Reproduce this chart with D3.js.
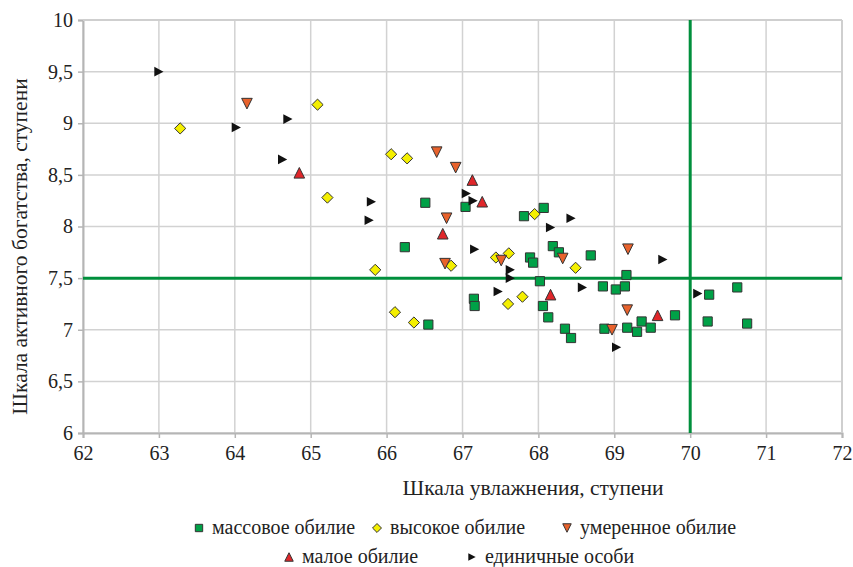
<!DOCTYPE html>
<html>
<head>
<meta charset="utf-8">
<script src="https://cdn.jsdelivr.net/npm/d3@7"></script>
<style>
  body { margin: 0; background: #fff; }
</style>
</head>
<body>
<svg id="chart" width="853" height="567"></svg>
<script>
// серии: [шкала увлажнения, шкала активного богатства]
const massovoe = [
  [66.51, 8.23], [67.04, 8.19], [66.24, 7.80], [66.55, 7.05], [67.15, 7.30], [67.16, 7.23],
  [67.81, 8.10], [68.07, 8.18], [67.89, 7.70], [67.93, 7.65], [68.19, 7.81], [68.27, 7.75],
  [68.69, 7.72], [68.02, 7.47], [68.06, 7.23], [68.13, 7.12], [68.35, 7.01], [68.43, 6.92],
  [68.85, 7.42], [69.02, 7.39], [69.14, 7.42], [69.16, 7.53], [68.87, 7.01], [69.17, 7.02],
  [69.30, 6.98], [69.36, 7.08], [69.48, 7.02], [69.80, 7.14], [70.25, 7.34], [70.62, 7.41],
  [70.23, 7.08], [70.75, 7.06]
];
const vysokoe = [
  [63.28, 8.95], [65.09, 9.18], [65.22, 8.28], [66.06, 8.70], [66.27, 8.66], [65.85, 7.58],
  [66.11, 7.17], [66.36, 7.07], [66.85, 7.62], [67.44, 7.70], [67.61, 7.74], [67.60, 7.25],
  [67.79, 7.32], [67.95, 8.12], [68.49, 7.60]
];
const umerennoe = [
  [64.16, 9.19], [66.66, 8.72], [66.91, 8.57], [66.79, 8.08], [66.77, 7.64], [67.51, 7.67],
  [68.32, 7.69], [69.18, 7.78], [69.17, 7.19], [68.97, 7.00]
];
const maloe = [
  [64.85, 8.52], [67.13, 8.45], [67.26, 8.24], [66.74, 7.93], [68.16, 7.34], [69.57, 7.14]
];
const edinichnye = [
  [63.00, 9.50], [64.02, 8.96], [64.70, 9.04], [64.63, 8.65], [65.80, 8.24], [65.77, 8.06],
  [67.05, 8.32], [67.14, 8.25], [67.16, 7.78], [67.63, 7.58], [67.63, 7.50], [67.47, 7.37],
  [68.16, 7.99], [68.43, 8.08], [68.58, 7.41], [69.64, 7.68], [69.03, 6.83], [70.10, 7.35]
];

const xTicks = [62, 63, 64, 65, 66, 67, 68, 69, 70, 71, 72];
const yTicks = [6, 6.5, 7, 7.5, 8, 8.5, 9, 9.5, 10];
const refX = 70, refY = 7.5;

// маркеры: k — масштаб (1 для графика)
function marker(kind, k) {
  const p = d3.path();
  if (kind === "square") {
    const h = 4.6 * k; p.rect(-h, -h, 2 * h, 2 * h);
  } else if (kind === "diamond") {
    const h = 5.6 * k; p.moveTo(0, -h); p.lineTo(h, 0); p.lineTo(0, h); p.lineTo(-h, 0); p.closePath();
  } else if (kind === "down") {
    const w = 5.3 * k, h = 5.3 * k; p.moveTo(-w, -h); p.lineTo(w, -h); p.lineTo(0, h); p.closePath();
  } else if (kind === "up") {
    const w = 5.3 * k, h = 5.3 * k; p.moveTo(-w, h); p.lineTo(w, h); p.lineTo(0, -h); p.closePath();
  } else {
    const w = 4.6 * k, h = 4.8 * k; p.moveTo(-w, -h); p.lineTo(w, 0); p.lineTo(-w, h); p.closePath();
  }
  return p.toString();
}

const series = [
  {name: "массовое обилие", data: massovoe, kind: "square", fill: "#00a147"},
  {name: "высокое обилие", data: vysokoe, kind: "diamond", fill: "#f4ef00"},
  {name: "умеренное обилие", data: umerennoe, kind: "down", fill: "#e8622c"},
  {name: "малое обилие", data: maloe, kind: "up", fill: "#e0262a"},
  {name: "единичные особи", data: edinichnye, kind: "right", fill: "#111"}
];

const margin = {top: 20, right: 11, bottom: 134, left: 83};
const width = 853, height = 567;
const innerW = width - margin.left - margin.right;
const innerH = height - margin.top - margin.bottom;

const svg = d3.select("#chart");
const g = svg.append("g").attr("transform", `translate(${margin.left},${margin.top})`);

const x = d3.scaleLinear().domain([62, 72]).range([0, innerW]);
const y = d3.scaleLinear().domain([6, 10]).range([innerH, 0]);

// сетка
g.append("g").selectAll("line").data(xTicks).join("line")
  .attr("x1", d => x(d)).attr("x2", d => x(d))
  .attr("y1", 0).attr("y2", innerH)
  .attr("stroke", "#d2d2d2").attr("stroke-width", 1.5);
g.append("g").selectAll("line").data(yTicks).join("line")
  .attr("x1", 0).attr("x2", innerW)
  .attr("y1", d => y(d)).attr("y2", d => y(d))
  .attr("stroke", "#d2d2d2").attr("stroke-width", 1.5);

// оси
const fmt = d => String(d).replace(".", ",");
const ax = g.append("g").attr("transform", `translate(0,${innerH})`)
  .call(d3.axisBottom(x).tickValues(xTicks).tickSize(5).tickPadding(8).tickFormat(d => d));
const ay = g.append("g")
  .call(d3.axisLeft(y).tickValues(yTicks).tickSize(5).tickPadding(5).tickFormat(fmt));
[ax, ay].forEach(a => {
  a.select(".domain").attr("stroke", "#b5b5b5").attr("stroke-width", 2);
  a.selectAll(".tick line").attr("stroke", "#b5b5b5").attr("stroke-width", 1.5);
  a.selectAll(".tick text").style("font-size", "20px");
});
g.append("line").attr("x1", innerW).attr("x2", innerW).attr("y1", 0).attr("y2", innerH)
  .attr("stroke", "#cfcfcf").attr("stroke-width", 2);
g.append("line").attr("x1", 0).attr("x2", innerW).attr("y1", 0).attr("y2", 0)
  .attr("stroke", "#cfcfcf").attr("stroke-width", 2);

// зелёные линии
g.append("line").attr("x1", 0).attr("x2", innerW).attr("y1", y(refY)).attr("y2", y(refY))
  .attr("stroke", "#008f3c").attr("stroke-width", 3);
g.append("line").attr("x1", x(refX)).attr("x2", x(refX)).attr("y1", 0).attr("y2", innerH)
  .attr("stroke", "#008f3c").attr("stroke-width", 3);

// точки
series.forEach(s => {
  g.append("g").selectAll("path").data(s.data).join("path")
    .attr("d", marker(s.kind, 1))
    .attr("transform", d => `translate(${x(d[0])},${y(d[1])})`)
    .attr("fill", s.fill)
    .attr("stroke", s.kind === "right" ? "none" : "#333")
    .attr("stroke-width", 1);
});

// подписи осей
svg.append("text")
  .attr("x", 533).attr("y", 495)
  .attr("text-anchor", "middle")
  .style("font-size", "21.5px")
  .text("Шкала увлажнения, ступени");
svg.append("text")
  .attr("transform", `translate(27,${margin.top + innerH / 2 + 20}) rotate(-90)`)
  .attr("text-anchor", "middle")
  .style("font-size", "21.5px")
  .text("Шкала активного богатства, ступени");

// легенда
const legendPos = [
  {x: 199, y: 528}, {x: 377, y: 528}, {x: 567, y: 528},
  {x: 289, y: 557}, {x: 472, y: 557}
];
series.forEach((s, i) => {
  const p = legendPos[i];
  const lg = svg.append("g").attr("transform", `translate(${p.x},${p.y})`);
  lg.append("path")
    .attr("d", marker(s.kind, 0.8))
    .attr("fill", s.fill)
    .attr("stroke", s.kind === "right" ? "none" : "#333");
  lg.append("text").attr("x", 13).attr("y", 6)
    .style("font-size", "20px")
    .text(s.name);
});

svg.selectAll("text")
  .style("font-family", "'Liberation Serif', 'Times New Roman', 'DejaVu Serif', serif")
  .style("fill", "#222");
</script>
</body>
</html>
